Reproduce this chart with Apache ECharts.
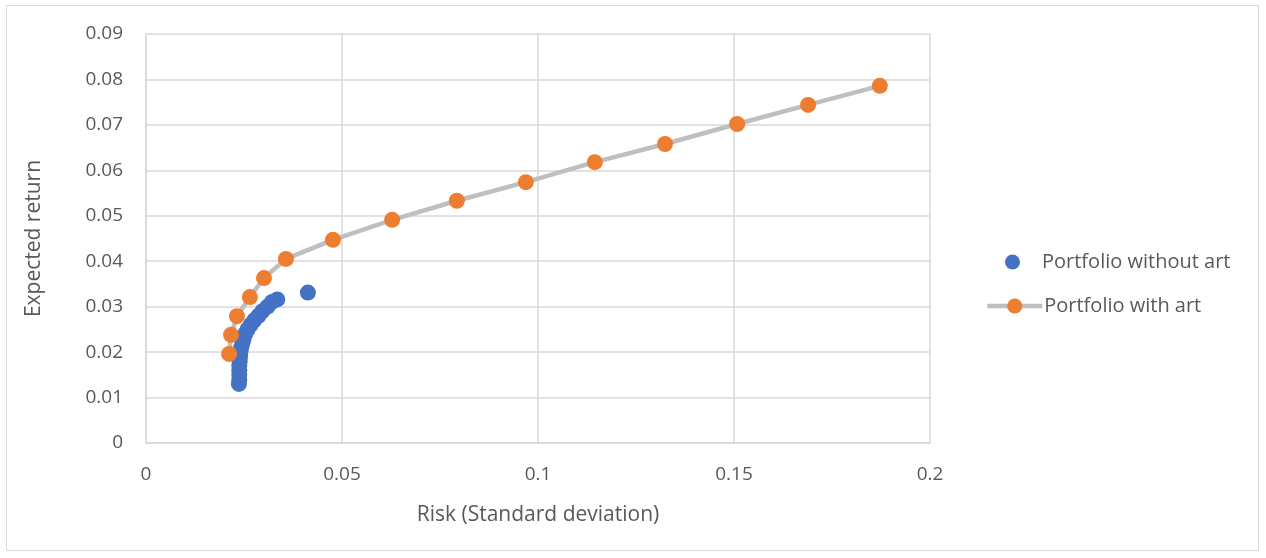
<!DOCTYPE html>
<html>
<head>
<meta charset="utf-8">
<script src="https://cdn.jsdelivr.net/npm/echarts@6/dist/echarts.min.js"></script>
<style>
  html, body { margin: 0; padding: 0; background: #fff; }
  #chart { width: 1266px; height: 558px; }
</style>
</head>
<body>
<div id="chart"></div>
<script>
// Efficient frontier: risk (standard deviation) vs expected return
const withoutArtRisk = [0.0237, 0.0238, 0.0238, 0.0238, 0.0238, 0.0239, 0.0240, 0.0241, 0.0243, 0.0246,
  0.0249, 0.0253, 0.0259, 0.0267, 0.0276, 0.0287, 0.0297, 0.0310, 0.0321, 0.0335, 0.0413];
const withoutArtReturn = [0.0130, 0.0140, 0.0150, 0.0160, 0.0170, 0.0180, 0.0190, 0.0200, 0.0210, 0.0220,
  0.0230, 0.0240, 0.0250, 0.0260, 0.0270, 0.0280, 0.0290, 0.0300, 0.0310, 0.0316, 0.0331];

const withArtRisk = [0.0212, 0.0217, 0.0232, 0.0265, 0.0301, 0.0357, 0.0477, 0.0628, 0.0793, 0.0969,
  0.1145, 0.1324, 0.1508, 0.1689, 0.1872];
const withArtReturn = [0.0196, 0.0238, 0.0279, 0.0321, 0.0363, 0.0405, 0.0447, 0.0491, 0.0533, 0.0574,
  0.0618, 0.0658, 0.0702, 0.0744, 0.0786];

const seriesNames = ['Portfolio without art', 'Portfolio with art'];
const xTitle = 'Risk (Standard deviation)';
const yTitle = 'Expected return';

const pairs = (xs, ys) => xs.map((x, i) => [x, ys[i]]);
const FONT = '"Open Sans", "Liberation Sans", sans-serif';
const gridColor = '#d9d9d9';
const textColor = '#595959';
const legendText = { fontFamily: FONT, fontSize: 20, color: textColor, padding: [0, 0, 0, -3] };

const chart = echarts.init(document.getElementById('chart'), null, { renderer: 'canvas' });
chart.setOption({
  animation: false,
  backgroundColor: '#ffffff',
  textStyle: { fontFamily: FONT },
  graphic: [{
    type: 'rect',
    shape: { x: 6.5, y: 5.5, width: 1252, height: 545 },
    style: { fill: 'none', stroke: '#d9d9d9', lineWidth: 1 },
    silent: true
  }],
  grid: { left: 146, right: 336, top: 34, bottom: 115, containLabel: false },
  // one legend entry per block so each icon can take its own size
  legend: [
    {
      left: 1000,
      top: 247,
      itemWidth: 55,
      itemHeight: 15,
      textStyle: legendText,
      data: [seriesNames[0]]
    },
    {
      left: 980,
      top: 291,
      itemWidth: 55,
      itemHeight: 19,
      lineStyle: { width: 4.5, color: '#bfbfbf' },
      textStyle: legendText,
      data: [seriesNames[1]]
    }
  ],
  xAxis: {
    type: 'value',
    min: 0, max: 0.2, interval: 0.05,
    name: xTitle,
    nameLocation: 'middle',
    nameGap: 62,
    nameTextStyle: { fontFamily: FONT, fontSize: 21, color: textColor },
    axisLine: { show: true, lineStyle: { color: gridColor, width: 1.5 } },
    axisTick: { show: false },
    axisLabel: { fontFamily: FONT, fontSize: 19, color: textColor, margin: 22 },
    splitLine: { show: true, lineStyle: { color: gridColor, width: 1.5 } }
  },
  yAxis: {
    type: 'value',
    min: 0, max: 0.09, interval: 0.01,
    name: yTitle,
    nameLocation: 'middle',
    nameGap: 101,
    nameRotate: 90,
    nameTextStyle: { fontFamily: FONT, fontSize: 21, color: textColor },
    axisLine: { show: true, lineStyle: { color: gridColor, width: 1.5 } },
    axisTick: { show: false },
    axisLabel: { fontFamily: FONT, fontSize: 19, color: textColor, margin: 23 },
    splitLine: { show: true, lineStyle: { color: gridColor, width: 1.5 } }
  },
  series: [
    {
      name: seriesNames[0],
      type: 'scatter',
      symbol: 'circle',
      symbolSize: 16,
      itemStyle: { color: '#4472c4', opacity: 1 },
      data: pairs(withoutArtRisk, withoutArtReturn),
      z: 2
    },
    {
      name: seriesNames[1],
      type: 'line',
      symbol: 'circle',
      symbolSize: 16,
      showAllSymbol: true,
      smooth: false,
      lineStyle: { color: '#bfbfbf', width: 4.5 },
      itemStyle: { color: '#ed7d31', borderWidth: 0 },
      data: pairs(withArtRisk, withArtReturn),
      z: 3
    }
  ]
});
</script>
</body>
</html>
